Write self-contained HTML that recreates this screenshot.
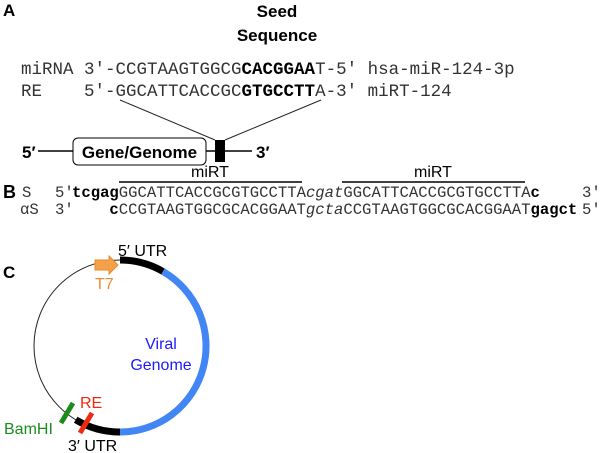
<!DOCTYPE html>
<html><head><meta charset="utf-8"><style>
html,body{margin:0;padding:0;background:#fff;}
svg{display:block;}
.sans{font-family:"Liberation Sans",Arial,sans-serif;}
.mono{font-family:"Liberation Mono","Courier New",monospace;}
</style></head><body>
<svg width="600" height="453" viewBox="0 0 600 453" xmlns="http://www.w3.org/2000/svg">
<g class="sans" font-weight="bold" font-size="17">
<text x="3" y="16">A</text>
<text x="277" y="17" text-anchor="middle">Seed</text>
<text x="277" y="41" text-anchor="middle">Sequence</text>
</g>
<g class="mono" font-size="17.5" fill="#333">
<text x="21" y="74" xml:space="preserve">miRNA 3′-CCGTAAGTGGCG<tspan font-weight="bold" fill="#000">CACGGAA</tspan>T-5′ hsa-miR-124-3p</text>
<text x="21" y="96" xml:space="preserve">RE    5′-GGCATTCACCGC<tspan font-weight="bold" fill="#000">GTGCCTT</tspan>A-3′ miRT-124</text>
</g>
<line x1="120" y1="100" x2="215" y2="140" stroke="#222" stroke-width="1"/>
<line x1="321" y1="100" x2="225" y2="140" stroke="#222" stroke-width="1"/>
<line x1="38" y1="151" x2="252" y2="151" stroke="#000" stroke-width="1.5"/>
<rect x="73" y="138" width="133" height="27" rx="5" fill="#fff" stroke="#000" stroke-width="1"/>
<rect x="215" y="140" width="10" height="22" fill="#000"/>
<g class="sans" font-weight="bold" font-size="17">
<text x="139.5" y="158" text-anchor="middle">Gene/Genome</text>
<text x="22" y="158">5′</text>
<text x="256" y="158">3′</text>
<text x="3" y="198" font-size="18">B</text>
<text x="3" y="278" font-size="17">C</text>
</g>
<g class="sans" font-size="16">
<text x="210" y="177" text-anchor="middle">miRT</text>
<text x="433" y="177" text-anchor="middle">miRT</text>
</g>
<line x1="119" y1="182" x2="302" y2="182" stroke="#000" stroke-width="1.5"/>
<line x1="342" y1="182" x2="525" y2="182" stroke="#000" stroke-width="1.5"/>
<g class="mono" font-size="15.6" fill="#333">
<text x="22" y="197">S</text>
<text x="20" y="214">αS</text>
<text x="55" y="197">5′</text>
<text x="55" y="214">3′</text>
<text x="72" y="197" xml:space="preserve"><tspan font-weight="bold" fill="#000">tcgag</tspan>GGCATTCACCGCGTGCCTTA<tspan font-style="italic">cgat</tspan>GGCATTCACCGCGTGCCTTA<tspan font-weight="bold" fill="#000">c</tspan></text>
<text x="109.4" y="214" xml:space="preserve"><tspan font-weight="bold" fill="#000">c</tspan>CCGTAAGTGGCGCACGGAAT<tspan font-style="italic">gcta</tspan>CCGTAAGTGGCGCACGGAAT<tspan font-weight="bold" fill="#000">gagct</tspan></text>
<text x="582" y="197">3′</text>
<text x="582" y="214">5′</text>
</g>
<circle cx="120" cy="346" r="86" fill="none" stroke="#222" stroke-width="1"/>
<path d="M120 260 A86 86 0 0 1 163 271.5" fill="none" stroke="#000" stroke-width="7"/>
<path d="M163 271.5 A86 86 0 0 1 120 432" fill="none" stroke="#4285f4" stroke-width="7"/>
<path d="M120 432 A86 86 0 0 1 75.7 419.7" fill="none" stroke="#000" stroke-width="7"/>
<path d="M95 260 L109 260 L109 256 L118 265 L109 274 L109 270 L95 270 Z" fill="#f5a04a" stroke="#e88a2a" stroke-width="1"/>
<line x1="61" y1="423" x2="73" y2="403" stroke="#1e8a1e" stroke-width="5"/>
<line x1="80" y1="433" x2="92" y2="413" stroke="#f02a10" stroke-width="5"/>
<g class="sans" font-size="16">
<text x="118" y="256">5′ UTR</text>
<text x="95" y="289" fill="#f08a30">T7</text>
<text x="161" y="349" fill="#1a1aff" text-anchor="middle">Viral</text>
<text x="161" y="370" fill="#1a1aff" text-anchor="middle">Genome</text>
<text x="80" y="408" fill="#f02a10">RE</text>
<text x="4" y="434" fill="#1e8a1e">BamHI</text>
<text x="68" y="451">3′ UTR</text>
</g>
</svg>
</body></html>
